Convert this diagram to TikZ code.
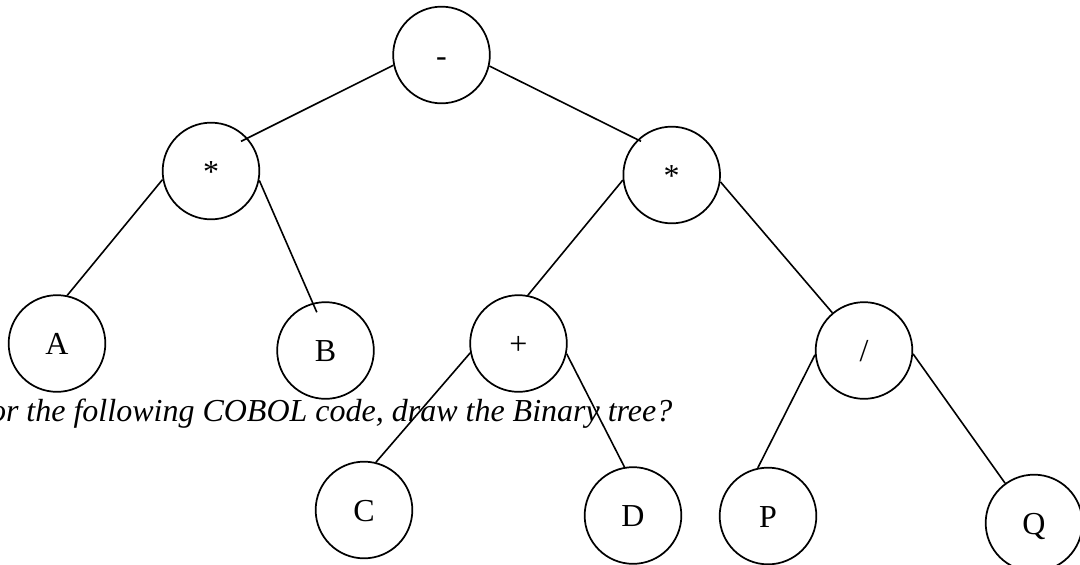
\documentclass[tikz,border=0pt]{standalone}
\usepackage{fontspec}
\setmainfont{Liberation Serif}
\begin{document}
\begin{tikzpicture}[x=0.75pt,y=-0.75pt,
  treenode/.style={draw, circle, line width=1.3pt, minimum size=72.5pt, inner sep=0pt,
    font=\fontsize{24pt}{28pt}\selectfont, text height=17.2pt, text depth=0pt},
  edge/.style={line width=1.2pt}]
\useasboundingbox (0,0) rectangle (1080,564);
\clip (0,0) rectangle (1080,564);
\node[treenode] (root)  at (441.5,55)   {-};
\node[treenode] (ls)    at (211,171)    {*};
\node[treenode] (rs)    at (671.7,175)  {*};
\node[treenode] (A)     at (57,343.5)   {A};
\node[treenode] (B)     at (325.5,350.5){B};
\node[treenode] (plus)  at (518.5,343.5){+};
\node[treenode] (slash) at (864,350.5)  {/};
\node[treenode] (C)     at (364,510)    {C};
\node[treenode] (D)     at (633,515.5)  {D};
\node[treenode] (P)     at (768,516)    {P};
\node[treenode] (Q)     at (1034,523)   {Q};
\node[anchor=base east, inner sep=0pt, font=\fontsize{24pt}{28pt}\selectfont\itshape] (cap) at (672.6,421.7)
  {or the following COBOL code, draw the Binary tree?};
\draw[edge, shorten >=-5.5pt] (root.192) -- (ls.42);
\draw[edge, shorten >=-2.9pt] (root.347) -- (rs.134);
\draw[edge] (ls.190) -- (A.78);
\draw[edge, shorten >=-7.6pt] (ls.349) -- (B.105);
\draw[edge] (rs.186) -- (plus.79);
\draw[edge] (rs.352) -- (slash.130);
\draw[edge] (plus.191) -- (C.76);
\draw[edge] (plus.348) -- (D.100);
\draw[edge] (slash.185) -- (P.102);
\draw[edge] (slash.356) -- (Q.126);
\end{tikzpicture}
\end{document}
